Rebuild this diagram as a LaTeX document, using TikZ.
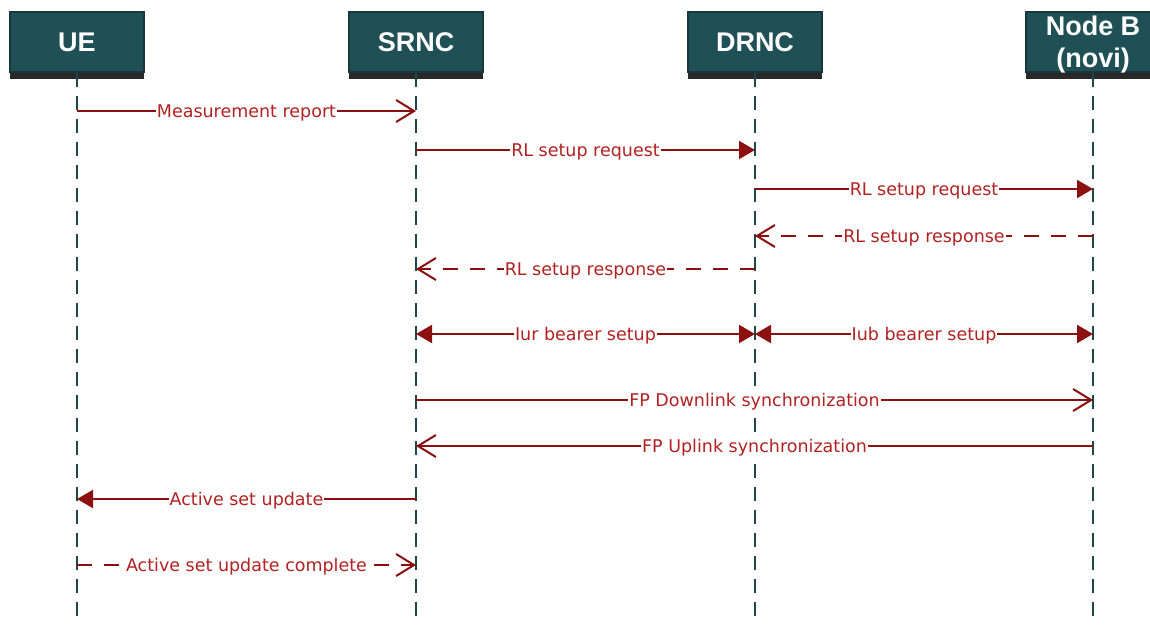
\documentclass[tikz,border=0pt]{standalone}
\usepackage{fontspec}
\setmainfont{DejaVu Sans}
\newfontfamily\headfont{Liberation Sans}
\usetikzlibrary{arrows.meta,shadows}
\definecolor{boxfill}{RGB}{31,80,85}
\definecolor{boxline}{RGB}{22,56,60}
\definecolor{shadowc}{RGB}{40,40,40}
\definecolor{lifec}{RGB}{31,70,75}
\definecolor{msgline}{RGB}{140,16,16}
\definecolor{msgtext}{RGB}{178,34,34}
\tikzset{
  actor/.style={draw=boxline, fill=boxfill, line width=1.2pt, minimum width=134pt, minimum height=60pt,
    text=white, font=\headfont\bfseries\fontsize{27}{32}\selectfont, align=center, inner sep=0pt,
    general shadow={fill=shadowc, shadow yshift=-7pt}},
  lifeline/.style={draw=lifec, line width=2pt, dash pattern=on 14pt off 9pt},
  msg/.style={draw=msgline, line width=2pt},
  dmsg/.style={msg, dash pattern=on 15pt off 12pt},
  opentip/.style={-{Straight Barb[length=18pt,width=22pt,line width=2pt]}},
  filltip/.style={-{Triangle[length=16pt,width=18pt]}},
  bothtip/.style={{Triangle[length=16pt,width=18pt]}-{Triangle[length=16pt,width=18pt]}},
  lbl/.style={fill=white, text=msgtext, font=\fontsize{17.5}{20}\selectfont, inner xsep=1pt, inner ysep=2pt, yshift=-1.5pt}
}
\begin{document}
\begin{tikzpicture}[x=1pt,y=-1pt]
\useasboundingbox (0,0) rectangle (1150,626);
\clip (0,0) rectangle (1150,626);
% actors
\node[actor] (ue) at (77,42) {UE};
\node[actor] (srnc) at (416,42) {SRNC};
\node[actor] (drnc) at (755,42) {DRNC};
\node[actor, text depth=0pt] (nb) at (1093,42) {Node B\\(novi)};
% lifeline ends
\coordinate (ueend) at (77,620);
\coordinate (srncend) at (416,620);
\coordinate (drncend) at (755,620);
\coordinate (nbend) at (1093,620);
\draw[lifeline] (ue.south) -- (ueend);
\draw[lifeline] (srnc.south) -- (srncend);
\draw[lifeline] (drnc.south) -- (drncend);
\draw[lifeline] (nb.south) -- (nbend);
% message anchor points
\foreach \n/\x in {ue/77,srnc/416,drnc/755,nb/1093}{
  \foreach \y in {111,150,189,236,269,334,400,446,499,565}{
    \coordinate (\n-\y) at (\x,\y);
  }
}
\draw[msg,opentip] (ue-111) -- node[lbl]{Measurement report} (srnc-111);
\draw[msg,filltip] (srnc-150) -- node[lbl]{RL setup request} (drnc-150);
\draw[msg,filltip] (drnc-189) -- node[lbl]{RL setup request} (nb-189);
\draw[dmsg,opentip] (nb-236) -- node[lbl]{RL setup response} (drnc-236);
\draw[dmsg,opentip] (drnc-269) -- node[lbl]{RL setup response} (srnc-269);
\draw[msg,bothtip] (srnc-334) -- node[lbl]{Iur bearer setup} (drnc-334);
\draw[msg,bothtip] (drnc-334) -- node[lbl]{Iub bearer setup} (nb-334);
\draw[msg,opentip] (srnc-400) -- node[lbl]{FP Downlink synchronization} (nb-400);
\draw[msg,opentip] (nb-446) -- node[lbl]{FP Uplink synchronization} (srnc-446);
\draw[msg,filltip] (srnc-499) -- node[lbl]{Active set update} (ue-499);
\draw[dmsg,opentip] (ue-565) -- node[lbl]{Active set update complete} (srnc-565);
\end{tikzpicture}
\end{document}
